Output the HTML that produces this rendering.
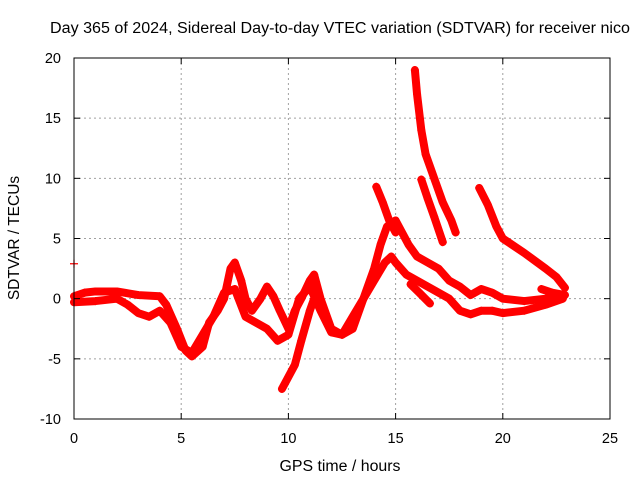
<!DOCTYPE html>
<html><head><meta charset="utf-8"><style>
body{margin:0;background:#fff}
svg{display:block;font-family:"Liberation Sans",sans-serif}
</style></head><body>
<svg id="chart" width="640" height="480" viewBox="0 0 640 480" xmlns="http://www.w3.org/2000/svg">
<text x="50" y="33" font-size="15.5" textLength="580" lengthAdjust="spacingAndGlyphs" fill="#000">Day 365 of 2024, Sidereal Day-to-day VTEC variation (SDTVAR) for receiver nico</text>
<g id="grid"></g>
<g id="series"></g>
<rect x="74" y="58" width="536" height="361" fill="none" stroke="#000" stroke-width="1"/>
<g id="axes"></g>
<text x="340" y="471" font-size="15.5" textLength="121" lengthAdjust="spacingAndGlyphs" text-anchor="middle">GPS time / hours</text>
<text transform="translate(19,238) rotate(-90)" font-size="15.5" text-anchor="middle">SDTVAR / TECUs</text>
</svg>
<script>
const xTicks=[0,5,10,15,20,25];
const yTicks=[-10,-5,0,5,10,15,20];
const trackA=[[0,0.2],[0.5,0.5],[1,0.6],[2,0.6],[3,0.3],[4,0.2],[4.3,-0.5],[4.8,-2.5],[5.2,-4.3],[5.5,-4.8],[6,-4],[6.3,-2],[6.7,-1],[7,0],[7.3,2.5],[7.5,3],[7.8,1.5],[8,0],[8.3,-1],[8.7,0],[9,1],[9.3,0.2],[9.6,-1],[10,-2.5],[10.3,-1],[10.6,0],[11,1.5],[11.2,2],[11.5,0],[11.8,-1.5],[12,-2.5],[12.5,-3],[13,-2.5],[13.3,-1],[13.6,0.5],[14,2.5],[14.3,4.5],[14.6,6],[15,6.5],[15.3,5.5],[15.6,4.5],[16,3.5],[16.5,3],[17,2.5],[17.5,1.5],[18,1],[18.5,0.3],[19,0.8],[19.5,0.5],[20,0],[21,-0.2],[22,0],[22.8,0.2]];
const trackB=[[0,-0.3],[1,-0.2],[2,0],[2.5,-0.5],[3,-1.2],[3.5,-1.5],[4,-1],[4.5,-2],[5,-4],[5.5,-4.5],[6,-3],[6.5,-1.5],[7,0.5],[7.5,0.8],[8,-1.5],[8.5,-2],[9,-2.5],[9.5,-3.5],[10,-3],[10.5,0],[11,1],[11.5,-1],[12,-2.8],[12.5,-3],[13,-1.5],[13.5,0],[14,1.5],[14.5,3],[14.8,3.5],[15,3],[15.5,2],[16,1.5],[16.5,1],[17,0.5],[17.5,0],[18,-1],[18.5,-1.3],[19,-1],[19.5,-1],[20,-1.2],[21,-1],[22,-0.5],[22.8,0]];
const trackC=[[9.7,-7.5],[10,-6.5],[10.3,-5.5],[10.6,-3.5],[11,-1],[11.2,0]];
const trackD=[[15.9,19],[16,17],[16.2,14],[16.4,12],[16.8,10],[17.2,8],[17.6,6.5],[17.8,5.5]];
const trackE=[[16.2,9.9],[16.5,8.3],[16.8,6.8],[17.2,4.7]];
const trackF=[[18.9,9.2],[19.3,7.8],[19.7,6],[20,5],[21,3.8],[22,2.5],[22.5,1.8],[22.9,0.9]];
const trackG=[[15.7,1.2],[16.1,0.5],[16.6,-0.4]];
const trackI=[[14.1,9.3],[14.4,8],[14.7,6.5],[15,5.5]];
const trackH=[[21.8,0.8],[22.3,0.5],[22.9,0.3]];
const lone=[[0,2.9]];
const tracks=[trackA,trackB,trackC,trackD,trackE,trackF,trackG,trackI,trackH];
const NS="http://www.w3.org/2000/svg";
const X0=74,X1=610,Y0=419,Y1=58;
function sx(h){return X0+(h-0)/25*(X1-X0);}
function sy(v){return Y0-(v+10)/30*(Y0-Y1);}
function mk(t,a,p){const e=document.createElementNS(NS,t);for(const k in a)e.setAttribute(k,a[k]);p.appendChild(e);return e;}
const grid=document.getElementById('grid'),axes=document.getElementById('axes'),ser=document.getElementById('series');
xTicks.forEach(t=>{
  const x=sx(t);
  if(t>0&&t<25){const l=mk('line',{x1:x,x2:x,y1:Y1,y2:Y0,stroke:'#a0a0a0','stroke-dasharray':'2,3'},grid);
  
  }
  mk('line',{x1:x,x2:x,y1:Y0,y2:Y0-6,stroke:'#000'},axes);
  mk('line',{x1:x,x2:x,y1:Y1,y2:Y1+6,stroke:'#000'},axes);
  const tx=mk('text',{x:x,y:Y0+24,'font-size':14.5,'text-anchor':'middle'},axes);
  tx.textContent=t;
  
  
});
yTicks.forEach(t=>{
  const y=sy(t);
  if(t>-10&&t<20){const l=mk('line',{x1:X0,x2:X1,y1:y,y2:y,stroke:'#a0a0a0','stroke-dasharray':'2,3'},grid);
  
  }
  mk('line',{x1:X0,x2:X0+6,y1:y,y2:y,stroke:'#000'},axes);
  mk('line',{x1:X1,x2:X1-6,y1:y,y2:y,stroke:'#000'},axes);
  const tx=mk('text',{x:X0-13,y:y+5,'font-size':14.5,'text-anchor':'end'},axes);
  tx.textContent=t;
  
  
});
tracks.forEach(tr=>{
  const pl=mk('polyline',{points:tr.map(p=>sx(p[0])+','+sy(p[1])).join(' '),fill:'none',stroke:'#ff0000','stroke-width':8,'stroke-linejoin':'round','stroke-linecap':'round'},ser);
  
  
});
tracks.concat([lone]).forEach(tr=>tr.forEach(p=>{
  const x=sx(p[0]),y=sy(p[1]);
  const m=mk('path',{d:`M${x-4},${y}H${x+4}M${x},${y-4}V${y+4}`,stroke:'#ff0000','stroke-width':1.2},ser);
  
  
}));
</script>
</body></html>
